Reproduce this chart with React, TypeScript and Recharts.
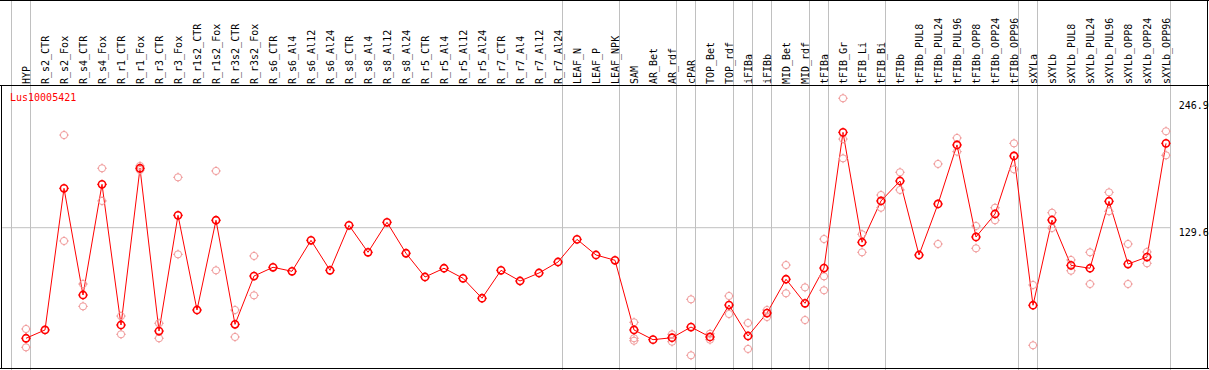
import { ComposedChart, Line, XAxis, YAxis, ReferenceLine } from 'recharts'

// gene expression profile, one column per sample
const gene = 'Lus10005421'

const categories = [
  'HYP', 'R_s2_CTR', 'R_s2_Fox', 'R_s4_CTR', 'R_s4_Fox', 'R_r1_CTR', 'R_r1_Fox', 'R_r3_CTR', 'R_r3_Fox',
  'R_r1s2_CTR', 'R_r1s2_Fox', 'R_r3s2_CTR', 'R_r3s2_Fox', 'R_s6_CTR', 'R_s6_Al4', 'R_s6_Al12', 'R_s6_Al24',
  'R_s8_CTR', 'R_s8_Al4', 'R_s8_Al12', 'R_s8_Al24', 'R_r5_CTR', 'R_r5_Al4', 'R_r5_Al12', 'R_r5_Al24',
  'R_r7_CTR', 'R_r7_Al4', 'R_r7_Al12', 'R_r7_Al24', 'LEAF_N', 'LEAF_P', 'LEAF_NPK', 'SAM', 'AR_Bet', 'AR_rdf',
  'cPAR', 'TOP_Bet', 'TOP_rdf', 'iFIBa', 'iFIBb', 'MID_Bet', 'MID_rdf', 'tFIBa', 'tFIB_Gr', 'tFIB_Li', 'tFIB_Bi',
  'tFIBb', 'tFIBb_PUL8', 'tFIBb_PUL24', 'tFIBb_PUL96', 'tFIBb_OPP8', 'tFIBb_OPP24', 'tFIBb_OPP96',
  'sXYLa', 'sXYLb', 'sXYLb_PUL8', 'sXYLb_PUL24', 'sXYLb_PUL96', 'sXYLb_OPP8', 'sXYLb_OPP24', 'sXYLb_OPP96',
]

const means = [
  27.1, 34.8, 166.1, 67.2, 169.8, 39.4, 184.7, 33.8, 141.1,
  53.3, 136.5, 40.0, 84.8, 92.9, 89.2, 117.9, 90.1,
  131.8, 106.8, 134.6, 105.9, 83.9, 92.0, 82.7, 64.2,
  90.1, 80.2, 87.6, 97.8, 118.8, 104.3, 99.4, 34.8, 25.8, 27.6,
  37.5, 28.3, 57.9, 29.2, 50.5, 81.8, 59.5, 92.2, 218.0, 116.1, 154.4,
  172.9, 104.3, 151.6, 206.3, 121.0, 142.3, 196.1,
  57.7, 136.7, 94.7, 92.0, 154.1, 95.9, 102.4, 207.8,
]

const N = null
const rep1 = [
  35.7, N, 215.5, 77.4, 184.7, 47.7, 186.8, 41.0, 176.3,
  N, 182.2, 53.3, 103.4, N, N, N, N,
  N, N, N, N, N, N, N, N,
  N, N, N, N, N, N, N, 41.9, N, 30.8,
  63.2, 31.3, 66.3, 41.3, 53.3, 95.0, 74.3, 119.1, 249.6, 123.5, 159.9,
  181.0, N, 188.7, 212.8, 131.2, 148.1, 207.8,
  76.5, 143.5, 99.7, 106.8, 162.4, 114.5, 107.1, 219.0,
]
const rep2 = [
  18.7, N, 117.3, 56.7, 154.4, 30.8, 183.1, 27.1, 104.9,
  N, 90.1, 28.3, 66.9, N, N, N, N,
  N, N, N, N, N, N, N, N,
  N, N, N, N, N, N, N, 27.1, N, 23.9,
  11.3, 25.8, 49.6, 17.2, 46.8, 68.8, 44.0, 84.5, 211.8, 106.8, 148.1,
  164.6, N, 114.5, 200.1, 110.5, 136.5, 183.7,
  20.6, 129.3, 89.7, 77.4, 144.8, 77.4, 96.6, 196.7,
]
const rep3 = [
  N, N, N, N, N, N, N, N, N,
  N, N, N, N, N, N, N, N,
  N, N, N, N, N, N, N, N,
  N, N, N, N, N, N, N, 24.8, N, N,
  N, N, N, N, N, N, N, 71.6, 193.9, N, N,
  N, N, N, N, N, N, N,
  N, N, N, N, N, N, N, N,
]

const yTicks = [0, 129.6, 246.9]
// sample groups end after these columns (-1 = left edge)
const groupEnds = [-1, 0, 28, 31, 34, 35, 37, 38, 39, 41, 42, 45, 52, 53, 60]

const data = categories.map((name, i) => ({
  idx: i, name, mean: means[i], r1: rep1[i], r2: rep2[i], r3: rep3[i],
}))

const FONT = '"DejaVu Sans Mono", monospace'
const RED = '#ff0000'
const PINK = '#f09a9a'
const GRID = '#c0c0c0'

function Ring({ cx, cy, value, color, width, k }: any) {
  if (value == null || cx == null || cy == null) return <g key={k} />
  const r = 3.6
  return (
    <g key={k}>
      <circle cx={cx} cy={cy} r={r} fill="none" stroke={color} strokeWidth={width} />
      <line x1={cx} y1={cy - r - 1.2} x2={cx} y2={cy - r + 0.6} stroke={color} strokeWidth={1} />
      <line x1={cx} y1={cy + r - 0.6} x2={cx} y2={cy + r + 1.2} stroke={color} strokeWidth={1} />
      <line x1={cx - r - 1.2} y1={cy} x2={cx - r + 0.6} y2={cy} stroke={color} strokeWidth={1} />
      <line x1={cx + r - 0.6} y1={cy} x2={cx + r + 1.2} y2={cy} stroke={color} strokeWidth={1} />
    </g>
  )
}

const repDot = (p: any) => <Ring {...p} k={`${p.dataKey}-${p.index}`} color={PINK} width={1} />
const meanDot = (p: any) => <Ring {...p} k={`m-${p.index}`} color={RED} width={1.6} />

function SampleTick({ x, payload }: any) {
  return (
    <text
      transform={`translate(${x + 3.5},84) rotate(-90)`}
      textAnchor="start"
      fontFamily={FONT}
      fontSize={10}
      fill="#000"
    >
      {categories[payload.value]}
    </text>
  )
}

function ValueTick({ x, y, payload }: any) {
  return (
    <text x={x} y={payload.value === 0 ? y - 3.5 : y + 8.3} textAnchor="start" fontFamily={FONT} fontSize={10} fill="#000">
      {payload.value}
    </text>
  )
}

const bar = (style: any) => <div style={{ position: 'absolute', background: '#000', ...style }} />

export default function App() {
  return (
    <div style={{ position: 'absolute', left: 0, top: 0, width: 1209, height: 370, background: '#fff', overflow: 'hidden' }}>
      <ComposedChart width={1209} height={370} data={data} margin={{ top: 0, right: 0, bottom: 0, left: 2.25 }}>
        <XAxis
          dataKey="idx"
          type="number"
          orientation="top"
          mirror
          domain={[-1.25, 60.25]}
          ticks={categories.map((_, i) => i)}
          interval={0}
          allowDataOverflow
          axisLine={false}
          tickLine={false}
          tick={<SampleTick />}
        />
        <YAxis
          orientation="right"
          width={38.25}
          domain={[-2.318, 340.69]}
          ticks={yTicks}
          allowDataOverflow
          axisLine={false}
          tickLine={false}
          tick={<ValueTick />}
        />
        {groupEnds.map(i => (
          <ReferenceLine key={`g${i}`} x={i + 0.2368} stroke={GRID} strokeWidth={1} ifOverflow="extendDomain" />
        ))}
        <ReferenceLine y={129.6} stroke={GRID} strokeWidth={1} />
        {(['r1', 'r2', 'r3'] as const).map(key => (
          <Line
            key={key}
            dataKey={key}
            stroke="none"
            dot={repDot}
            activeDot={false}
            isAnimationActive={false}
            connectNulls={false}
          />
        ))}
        <Line
          dataKey="mean"
          type="linear"
          stroke={RED}
          strokeWidth={1}
          dot={meanDot}
          activeDot={false}
          isAnimationActive={false}
        />
      </ComposedChart>
      <svg width={1209} height={370} style={{ position: 'absolute', left: 0, top: 0, pointerEvents: 'none' }}>
        <text x={10} y={101} fontFamily={FONT} fontSize={10} fill={RED}>{gene}</text>
      </svg>
      {bar({ left: 0, top: 0, width: 1209, height: 1 })}
      {bar({ left: 0, top: 85, width: 1209, height: 1 })}
      {bar({ left: 1, top: 85, width: 1, height: 284 })}
      {bar({ left: 0, top: 368, width: 1209, height: 1 })}
      {bar({ left: 1207, top: 0, width: 1, height: 369 })}
    </div>
  )
}
